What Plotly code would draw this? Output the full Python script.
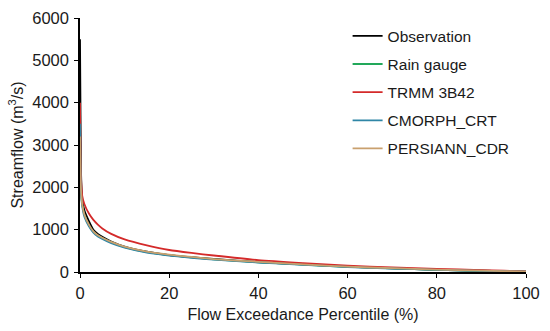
import plotly.graph_objects as go

percentile = [0, 0.2, 0.5, 1, 2, 3, 4, 5, 7, 10, 15, 20, 25, 30, 40, 50, 60, 70, 80, 90, 95, 100]

observation = [5500, 2500, 1700, 1450, 1200, 1000, 900, 830, 720, 600, 480, 400, 350, 310, 235, 178, 125, 88, 52, 30, 20, 10]
rain_gauge = [3300, 2000, 1600, 1350, 1100, 950, 860, 800, 700, 590, 470, 400, 345, 300, 230, 175, 122, 86, 52, 30, 20, 10]
trmm = [4000, 2300, 1800, 1600, 1380, 1230, 1120, 1030, 900, 770, 630, 520, 450, 390, 280, 210, 150, 110, 75, 45, 30, 15]
cmorph = [3500, 1900, 1550, 1300, 1080, 930, 840, 780, 680, 575, 460, 390, 335, 290, 225, 170, 118, 83, 50, 28, 18, 8]
persiann = [3200, 2000, 1600, 1350, 1120, 960, 870, 810, 710, 600, 480, 410, 355, 305, 240, 180, 125, 90, 55, 32, 20, 10]

names = ["Observation", "Rain gauge", "TRMM 3B42", "CMORPH_CRT", "PERSIANN_CDR"]
series = [observation, rain_gauge, trmm, cmorph, persiann]
colors = ["#000000", "#22a85a", "#d42a2a", "#2f86a6", "#c9a06e"]

fig = go.Figure()
for i, (n, s, c) in enumerate(zip(names, series, colors)):
    fig.add_trace(go.Scatter(x=percentile, y=s, mode="lines", name=n,
                             line=dict(color=c, width=1.8, shape="spline", smoothing=0.6),
                             legendgroup=n))

fig.update_layout(
    width=550, height=331,
    margin=dict(l=80, r=24, t=18, b=59, autoexpand=False),
    paper_bgcolor="white", plot_bgcolor="white",
    font=dict(family="Liberation Sans, Arial, sans-serif", size=15.5, color="#1a1a1a"),
    showlegend=True,
    legend=dict(x=0.6, y=0.995, xanchor="left", yanchor="top",
                font=dict(size=15.5, color="#1a1a1a"),
                bgcolor="rgba(0,0,0,0)", tracegroupgap=5, itemwidth=30),
    xaxis=dict(range=[0, 100], tickvals=[0, 20, 40, 60, 80, 100],
               showline=True, linecolor="black", linewidth=1.5,
               ticks="outside", ticklen=4, tickcolor="black", showgrid=False, zeroline=False,
               automargin=False, ticklabelstandoff=1,
               title=dict(text="Flow Exceedance Percentile (%)", standoff=8, font=dict(size=16)),
               tickfont=dict(size=16.5)),
    yaxis=dict(range=[0, 6000], tickvals=[0, 1000, 2000, 3000, 4000, 5000, 6000],
               showline=True, linecolor="black", linewidth=1.5,
               ticks="outside", ticklen=4, tickcolor="black", showgrid=False, zeroline=False,
               automargin=False, ticklabelstandoff=2,
               title=dict(text="Streamflow (m<sup>3</sup>/s)", standoff=5, font=dict(size=16)),
               tickfont=dict(size=16.5)),
)

fig.write_html("out.html", config={"displayModeBar": False},
               post_script="document.body.style.margin='0';")
